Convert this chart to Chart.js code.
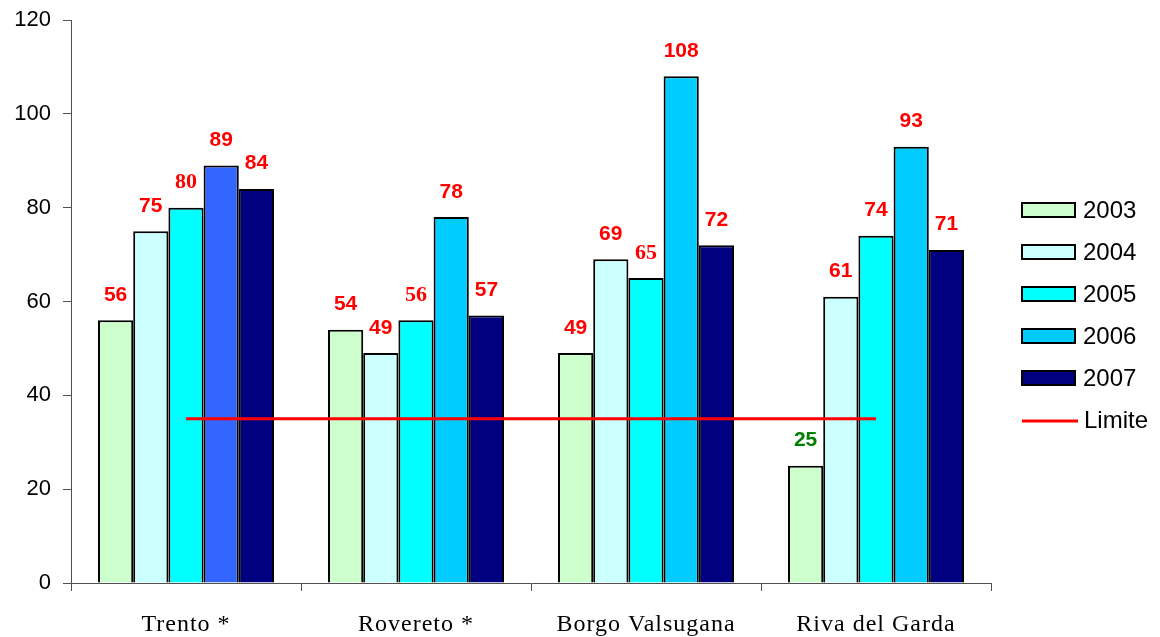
<!DOCTYPE html>
<html>
<head>
<meta charset="utf-8">
<title>Limite</title>
<script src="https://cdn.jsdelivr.net/npm/chart.js@4"></script>
<style>
  html, body { margin: 0; padding: 0; background: #ffffff; }
  #wrap { width: 1160px; height: 637px; position: relative; }
</style>
</head>
<body>
<div id="wrap"><canvas id="chart" width="1160" height="637"></canvas></div>
<script>
// Categories and yearly values
const categories = ['Trento *', 'Rovereto *', 'Borgo Valsugana', 'Riva del Garda'];
const years = ['2003', '2004', '2005', '2006', '2007'];
const values2003 = [56, 54, 49, 25];
const values2004 = [75, 49, 69, 61];
const values2005 = [80, 56, 65, 74];
const values2006 = [89, 78, 108, 93];
const values2007 = [84, 57, 72, 71];
const limitValue = 35;
const limitLine = [35, 35, 35, 35];
const yTickValues = [0, 20, 40, 60, 80, 100, 120];

// Styling
const colors2003 = '#CCFFCC';
const colors2004 = '#CCFFFF';
const colors2005 = '#00FFFF';
const colors2006 = ['#3366FF', '#00CCFF', '#00CCFF', '#00CCFF'];
const colors2007 = '#000080';
const legendColors = [colors2003, colors2004, colors2005, '#00CCFF', colors2007];
// value labels set in a serif face (dataset index : category index)
const serifLabels = new Set(['2:0', '2:1', '2:2']);

const SANS = '"Liberation Sans", Arial, sans-serif';
const SERIF = '"Liberation Serif", "Times New Roman", serif';

const seriesValues = [values2003, values2004, values2005, values2006, values2007];
const seriesColors = [colors2003, colors2004, colors2005, colors2006, colors2007];

const datasets = years.map((y, i) => ({
  type: 'bar',
  label: y,
  data: seriesValues[i],
  backgroundColor: seriesColors[i],
  borderColor: '#000000',
  borderWidth: 2,
  barPercentage: 1.0,
  categoryPercentage: 176 / 230,
  order: 1
}));
datasets.push({
  type: 'line',
  label: 'Limite',
  data: limitLine,
  borderColor: '#FF0000',
  borderWidth: 3,
  pointRadius: 0,
  fill: false,
  order: 0
});

// Value labels above each bar
const valueLabels = {
  id: 'valueLabels',
  afterDatasetsDraw(chart) {
    const ctx = chart.ctx;
    ctx.save();
    chart.data.datasets.forEach((ds, di) => {
      if (ds.type !== 'bar') return;
      const meta = chart.getDatasetMeta(di);
      meta.data.forEach((bar, i) => {
        const v = ds.data[i];
        const serif = serifLabels.has(di + ':' + i);
        ctx.font = serif ? 'bold 22px ' + SERIF : 'bold 21px ' + SANS;
        ctx.fillStyle = v < limitValue ? '#008000' : '#FF0000';
        ctx.textAlign = 'center';
        ctx.textBaseline = 'alphabetic';
        ctx.fillText(String(v), bar.x, bar.y - 19.5);
      });
    });
    ctx.restore();
  }
};

// Category names under the x axis
const categoryLabels = {
  id: 'categoryLabels',
  afterDraw(chart) {
    const ctx = chart.ctx;
    const xs = chart.scales.x;
    ctx.save();
    ctx.font = '24px ' + SERIF;
    try { ctx.letterSpacing = '1px'; } catch (e) {}
    ctx.fillStyle = '#000000';
    ctx.textAlign = 'center';
    ctx.textBaseline = 'alphabetic';
    categories.forEach((c, i) => {
      ctx.fillText(c, xs.getPixelForValue(i), 631);
    });
    ctx.restore();
  }
};

// Legend on the right
const sideLegend = {
  id: 'sideLegend',
  afterDraw(chart) {
    const ctx = chart.ctx;
    ctx.save();
    ctx.font = '24px ' + SANS;
    ctx.textAlign = 'left';
    ctx.textBaseline = 'alphabetic';
    const x0 = 1022, boxW = 53, boxH = 14, step = 42;
    let cy = 210;
    years.forEach((y, i) => {
      ctx.fillStyle = legendColors[i];
      ctx.fillRect(x0, cy - boxH / 2, boxW, boxH);
      ctx.strokeStyle = '#000000';
      ctx.lineWidth = 2;
      ctx.strokeRect(x0, cy - boxH / 2, boxW, boxH);
      ctx.fillStyle = '#000000';
      ctx.fillText(y, 1083, cy + 8);
      cy += step;
    });
    ctx.strokeStyle = '#FF0000';
    ctx.lineWidth = 3;
    ctx.beginPath();
    ctx.moveTo(x0, cy + 1);
    ctx.lineTo(1078, cy + 1);
    ctx.stroke();
    ctx.fillStyle = '#000000';
    ctx.fillText('Limite', 1084, cy + 8);
    ctx.restore();
  }
};

new Chart(document.getElementById('chart'), {
  data: { labels: categories, datasets: datasets },
  options: {
    responsive: false,
    animation: false,
    layout: { padding: { left: 0, right: 169, top: 20, bottom: 0 } },
    plugins: {
      legend: { display: false },
      tooltip: { enabled: false }
    },
    scales: {
      x: {
        type: 'category',
        offset: true,
        grid: {
          offset: true,
          drawOnChartArea: false,
          drawTicks: true,
          tickLength: 8,
          color: '#505050',
          lineWidth: 1
        },
        border: { display: true, color: '#505050', width: 1 },
        ticks: { display: false },
        afterFit(scale) { scale.height = 54; }
      },
      y: {
        min: 0,
        max: 120,
        afterBuildTicks(scale) { scale.ticks = yTickValues.map(v => ({ value: v })); },
        grid: {
          drawOnChartArea: false,
          drawTicks: true,
          tickLength: 8,
          color: '#505050',
          lineWidth: 1
        },
        border: { display: true, color: '#505050', width: 1 },
        ticks: {
          padding: 12,
          color: '#000000',
          font: { family: SANS, size: 22, lineHeight: 0.7 }
        },
        afterFit(scale) { scale.width = 71; }
      }
    }
  },
  plugins: [valueLabels, categoryLabels, sideLegend]
});
</script>
</body>
</html>
